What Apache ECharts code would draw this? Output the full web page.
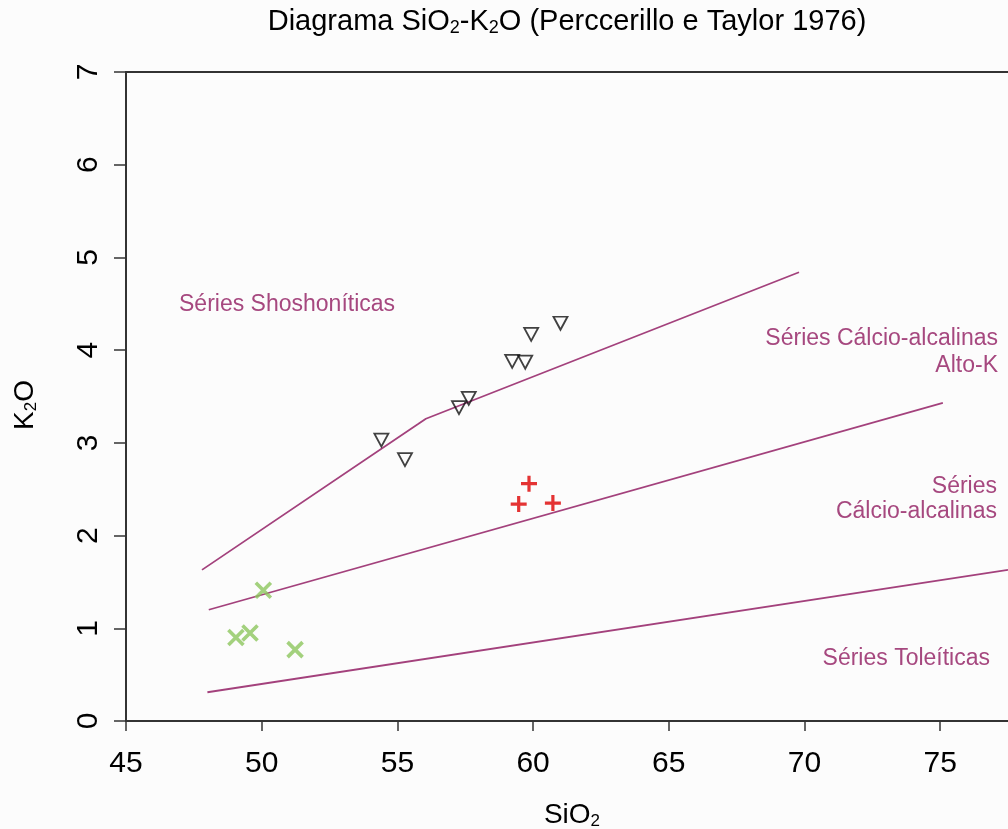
<!DOCTYPE html>
<html>
<head>
<meta charset="utf-8">
<script src="https://cdn.jsdelivr.net/npm/echarts@6/dist/echarts.min.js"></script>
<style>
  html, body { margin: 0; padding: 0; background: #fcfcfc; }
  #chart { width: 1008px; height: 829px; }
</style>
</head>
<body>
<div id="chart"></div>
<script>
// Axis ranges and ticks
const xTicks = [45, 50, 55, 60, 65, 70, 75];
const yTicks = [0, 1, 2, 3, 4, 5, 6, 7];

// Series boundaries (SiO2, K2O vertices)
const lineShoshonitic = [[47.8, 1.63], [55.75, 3.2], [56.05, 3.26], [69.8, 4.84]];
const lineHighK = [[48.05, 1.2], [75.1, 3.43]];
const lineTholeiitic = [[48.0, 0.31], [77.5, 1.63]];

// Samples: open triangles
const triSiO2 = [54.41, 55.28, 57.27, 57.63, 59.23, 59.71, 59.93, 61.01];
const triK2O = [3.03, 2.82, 3.38, 3.48, 3.88, 3.87, 4.17, 4.29];

// Samples: red crosses
const plusSiO2 = [59.85, 59.47, 60.73];
const plusK2O = [2.56, 2.34, 2.35];

// Samples: green x marks
const xSiO2 = [49.05, 49.57, 50.06, 51.23];
const xK2O = [0.90, 0.95, 1.41, 0.77];

const zip = (a, b) => a.map((v, i) => [v, b[i]]);

const FONT = '"Liberation Sans", Arial, Helvetica, sans-serif';
const LINE_COLOR = '#a3417c';
const LABEL_COLOR = '#a6487f';
const AXIS_COLOR = '#333333';

const chart = echarts.init(document.getElementById('chart'), null, { renderer: 'canvas' });

// Text measuring for laying out formulas with subscripts
const measureCtx = document.createElement('canvas').getContext('2d');
function textWidth(str, size) {
  measureCtx.font = size + 'px ' + FONT;
  return measureCtx.measureText(str).width;
}

// Builds a centred group of text pieces; pieces flagged `sub` are smaller and lowered
function formula(pieces, x, y, size, rotation) {
  const subSize = Math.round(size * 0.62);
  const subDrop = size * 0.22;
  const widths = pieces.map(p => textWidth(p.t, p.sub ? subSize : size));
  const total = widths.reduce((s, w) => s + w, 0);
  let cx = -total / 2;
  const children = pieces.map((p, i) => {
    const el = {
      type: 'text',
      x: cx,
      y: p.sub ? subDrop : 0,
      style: {
        text: p.t,
        fontSize: p.sub ? subSize : size,
        fontFamily: FONT,
        fill: '#000',
        align: 'left',
        verticalAlign: 'middle'
      }
    };
    cx += widths[i];
    return el;
  });
  return { type: 'group', x: x, y: y, rotation: rotation || 0, children: children };
}

const boundary = (data) => ({
  type: 'line',
  data: data,
  showSymbol: false,
  symbol: 'none',
  lineStyle: { color: LINE_COLOR, width: 1.8 },
  silent: true,
  z: 2
});

const option = {
  backgroundColor: '#fcfcfc',
  animation: false,
  textStyle: { fontFamily: FONT },
  grid: { left: 126, top: 72, right: 0, bottom: 108, containLabel: false },
  xAxis: [{
    type: 'value',
    min: 45,
    max: 77.5,
    axisLine: { show: true, onZero: false, lineStyle: { color: AXIS_COLOR, width: 2 } },
    axisTick: { show: true, inside: false, length: 10, lineStyle: { color: AXIS_COLOR, width: 1.5 },
      customValues: xTicks },
    axisLabel: { show: true, fontSize: 30, color: '#000', margin: 28, fontFamily: FONT,
      customValues: xTicks },
    splitLine: { show: false }
  }, {
    type: 'value',
    position: 'top',
    min: 45,
    max: 77.5,
    axisLine: { show: true, onZero: false, lineStyle: { color: AXIS_COLOR, width: 2 } },
    axisTick: { show: false },
    axisLabel: { show: false },
    splitLine: { show: false }
  }],
  yAxis: {
    type: 'value',
    min: 0,
    max: 7,
    interval: 1,
    axisLine: { show: true, onZero: false, lineStyle: { color: AXIS_COLOR, width: 2 } },
    axisTick: { show: true, inside: false, length: 12, lineStyle: { color: AXIS_COLOR, width: 1.5 } },
    axisLabel: { show: true, fontSize: 30, color: '#000', rotate: 90, margin: 22, fontFamily: FONT,
      formatter: (v) => (yTicks.indexOf(v) >= 0 ? String(v) : '') },
    splitLine: { show: false }
  },
  series: [
    boundary(lineShoshonitic),
    boundary(lineHighK),
    boundary(lineTholeiitic),
    {
      type: 'scatter',
      data: zip(triSiO2, triK2O),
      symbol: 'triangle',
      symbolRotate: 180,
      symbolSize: [14, 13],
      itemStyle: { color: 'rgba(0,0,0,0)', borderColor: '#111', borderWidth: 1.8 },
      z: 5
    },
    {
      type: 'scatter',
      data: zip(plusSiO2, plusK2O),
      symbol: 'path://M0,-1 L0,1 M-1,0 L1,0',
      symbolSize: 16,
      itemStyle: { color: 'rgba(0,0,0,0)', borderColor: '#dd0000', borderWidth: 3.2 },
      z: 5
    },
    {
      type: 'scatter',
      data: zip(xSiO2, xK2O),
      symbol: 'path://M-1,-1 L1,1 M-1,1 L1,-1',
      symbolSize: 15,
      itemStyle: { color: 'rgba(0,0,0,0)', borderColor: '#8cc65c', borderWidth: 3.6 },
      z: 5
    }
  ],
  graphic: [
    formula([{ t: 'Diagrama SiO' }, { t: '2', sub: true }, { t: '-K' }, { t: '2', sub: true },
      { t: 'O (Perccerillo e Taylor 1976)' }], 567, 22, 29),
    formula([{ t: 'SiO' }, { t: '2', sub: true }], 572, 815, 28),
    formula([{ t: 'K' }, { t: '2', sub: true }, { t: 'O' }], 25, 405, 28, Math.PI / 2),
    {
      type: 'text', x: 179, y: 305,
      style: { text: 'Séries Shoshoníticas', fontSize: 23, fontFamily: FONT, fill: LABEL_COLOR,
        align: 'left', verticalAlign: 'middle' }
    },
    {
      type: 'text', x: 998, y: 352,
      style: { text: 'Séries Cálcio-alcalinas\nAlto-K', fontSize: 23, fontFamily: FONT, fill: LABEL_COLOR,
        align: 'right', verticalAlign: 'middle', lineHeight: 27 }
    },
    {
      type: 'text', x: 997, y: 499,
      style: { text: 'Séries\nCálcio-alcalinas', fontSize: 23, fontFamily: FONT, fill: LABEL_COLOR,
        align: 'right', verticalAlign: 'middle', lineHeight: 25 }
    },
    {
      type: 'text', x: 990, y: 659,
      style: { text: 'Séries Toleíticas', fontSize: 23, fontFamily: FONT, fill: LABEL_COLOR,
        align: 'right', verticalAlign: 'middle' }
    }
  ]
};

chart.setOption(option);
</script>
</body>
</html>
